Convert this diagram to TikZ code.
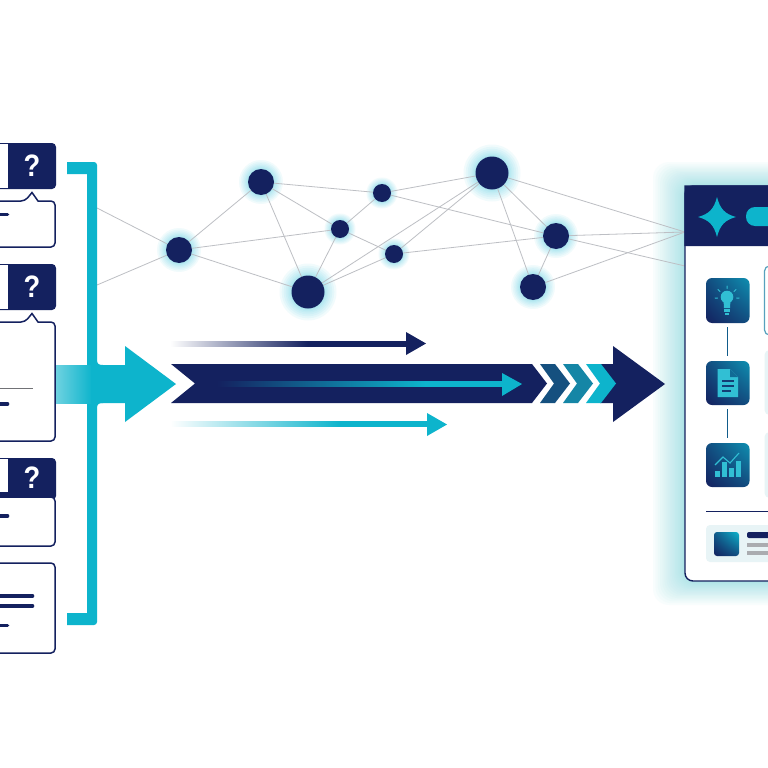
\documentclass[tikz,border=0pt]{standalone}
\usepackage{fontspec}
\setmainfont{Liberation Sans}
\usetikzlibrary{backgrounds,shadings}
\definecolor{navy}{HTML}{14215F}
\definecolor{teal1}{HTML}{0DB4CC}
\definecolor{glowc}{HTML}{63D2E6}
\definecolor{edgec}{HTML}{BDBFC4}
\definecolor{softc}{HTML}{E8F4F6}
\definecolor{chevA}{HTML}{15507F}
\definecolor{chevB}{HTML}{1586A6}
\definecolor{panelglow}{HTML}{8FDDE3}
\pgfdeclarehorizontalshading{fadenavy}{100bp}{color(0bp)=(white); color(25bp)=(white); color(54bp)=(navy); color(100bp)=(navy)}
\pgfdeclarehorizontalshading{fadeteal}{100bp}{color(0bp)=(white); color(25bp)=(white); color(58bp)=(teal1); color(100bp)=(teal1)}
\pgfdeclarehorizontalshading{fadeinner}{100bp}{color(0bp)=(navy); color(27bp)=(navy); color(62bp)=(teal1); color(100bp)=(teal1)}
\tikzset{
  net/.style={circle,fill=navy,inner sep=0pt,minimum size=#1},
  edge/.style={draw=edgec,line width=0.8pt},
  glowring/.style={fill=glowc,opacity=0.085},
  qbox/.style={fill=navy,rounded corners=4pt},
  cardbox/.style={draw=navy,fill=white,line width=1.5pt,rounded corners=4pt},
  bar/.style={draw=navy,line width=3.6pt,line cap=round},
  tealfill/.style={fill=teal1},
  iconbox/.style={rounded corners=6pt,lower left=navy,lower right=navy!70!teal1,upper right=teal1!75!navy,upper left=navy!70!teal1},
  icondraw/.style={fill=teal1!85!white,draw=none},
  softcard/.style={fill=softc,rounded corners=5pt},
  qmark/.style={text=white,font=\bfseries\fontsize{31}{31}\selectfont,inner sep=0pt,xscale=0.88}
}
\begin{document}
\begin{tikzpicture}[x=1pt,y=-1pt]
\useasboundingbox (0,0) rectangle (768,768);
\clip (0,0) rectangle (768,768);

% network nodes
\node[net=26pt] (a) at (179,250) {};
\node[net=26pt] (b) at (261,182) {};
\node[net=18pt] (c) at (382,193) {};
\node[net=18pt] (d) at (340,229) {};
\node[net=18pt] (e) at (394,254) {};
\node[net=33pt] (f) at (308,292) {};
\node[net=33pt] (g) at (492,173) {};
\node[net=26pt] (h) at (556,236) {};
\node[net=26pt] (i) at (533,287) {};
\coordinate (br1) at (97,208);
\coordinate (br2) at (97,285);
\coordinate (pn1) at (685,232);
\coordinate (pn2) at (685,266);

\begin{scope}[on background layer]
  \fill[white] (0,0) rectangle (768,768);
  \foreach \n/\r/\w in {a/13/9,b/13/9,c/9/6.5,d/9/6.5,e/9/6.5,f/16.5/12,g/16.5/12,h/13/9,i/13/9}{
    \foreach \k in {1,2,...,8}{
      \fill[glowring] (\n) circle ({\r+\w*(\k/8)^1.5});
    }
  }
  % panel glow
  \foreach \k in {1,2,...,22}{
    \pgfmathsetmacro{\off}{32*(\k/22)^1.7}
    \fill[panelglow,opacity=0.055,rounded corners=16pt] ({685-\off},{186-\off*0.75}) rectangle (800,{581+\off*0.75});
  }
  \foreach \s/\t in {br1/a,br2/a,a/b,a/d,a/f,b/c,b/d,b/f,d/c,d/e,d/f,f/e,f/g,e/g,c/g,c/h,e/h,g/h,g/i,h/i,g/pn1,h/pn1,h/pn2,i/pn1}{
    \draw[edge] (\s) -- (\t);
  }
\end{scope}

% left column
\fill[qbox] (-6,143) rectangle (56,189);
\fill[white] (-6,144) rectangle (8,188);
\node[qmark] (q1) at (32,166) {?};
\draw[cardbox] (-6,201) -- (25,201) [sharp corners] -- (32,192.5) -- (38,201) [rounded corners=4pt] -- (55,201) -- (55,247) -- (-6,247);
\draw[bar] (0,214.5) -- (7.5,214.5);

\fill[qbox] (-6,264) rectangle (56,310);
\fill[white] (-6,265) rectangle (8,309);
\node[qmark] (q2) at (32,287) {?};
\draw[cardbox] (-6,322) -- (25,322) [sharp corners] -- (32,313.5) -- (38,322) [rounded corners=4pt] -- (55,322) -- (55,441) -- (-6,441);
\draw[edgec!60!black,line width=1pt] (0,388) -- (33,388);
\draw[bar] (0,404) -- (7.5,404);

\fill[qbox] (-6,458) rectangle (56,500);
\fill[white] (-6,459) rectangle (8,492);
\node[qmark] (q3) at (32,478) {?};
\draw[cardbox] (-6,497) rectangle (55,546);
\draw[bar] (0,516) -- (7.5,516);

\draw[cardbox] (-6,563) rectangle (55,653);
\draw[bar] (0,596) -- (32.5,596);
\draw[bar] (0,606) -- (32.5,606);
\draw[bar] (0,625.5) -- (7.5,625.5);

% bracket
\fill[tealfill] (67,162) [rounded corners=3pt] -- (97,162) [sharp corners] -- (97,360) .. controls (97,364) and (99,365) .. (103,365) -- (87,365) -- (87,174) -- (67,174) -- cycle;
\fill[tealfill] (67,625) [rounded corners=3pt] -- (97,625) [sharp corners] -- (97,408) .. controls (97,404) and (99,403) .. (103,403) -- (87,403) -- (87,613) -- (67,613) -- cycle;
\shade[left color=teal1!60!white,right color=teal1] (56,365) rectangle (92,403);
\fill[tealfill] (91,365) -- (125,365) -- (125,346) -- (176,384) -- (125,422) -- (125,403) -- (91,403) -- cycle;

% thin arrows
\shade[shading=fadenavy] (170,341) rectangle (407,346);
\fill[navy] (406,332) -- (426,343.5) -- (406,355) -- cycle;
\shade[shading=fadeteal] (170,421.5) rectangle (428,426.5);
\fill[teal1] (427,413) -- (447,424.5) -- (427,436) -- cycle;

% main arrow
\fill[navy] (171,364) -- (532,364) -- (547,383.5) -- (532,403) -- (171,403) -- (195,383.5) -- cycle;
\shade[shading=fadeinner] (205,381) rectangle (503,386);
\fill[teal1] (502,373) -- (522,384) -- (502,396) -- cycle;
\fill[chevA] (540,364) -- (555,364) -- (570,383.5) -- (555,403) -- (540,403) -- (554,383.5) -- cycle;
\fill[chevB] (563,364) -- (578,364) -- (593,383.5) -- (578,403) -- (563,403) -- (577,383.5) -- cycle;
\fill[navy] (600,364) -- (613,364) -- (613,346) -- (665,384) -- (613,422) -- (613,403) -- (600,403) -- cycle;
\fill[teal1] (586,364) -- (601,364) -- (616,383.5) -- (601,403) -- (586,403) -- (600,383.5) -- cycle;

% panel
\draw[navy,fill=white,line width=1.4pt,rounded corners=8pt] (685,186) rectangle (790,581);
\fill[navy,rounded corners=8pt] (684.3,185.3) -- (790,185.3) -- (790,246) [sharp corners] -- (684.3,246) -- cycle;
\fill[teal1] (717,197) .. controls (720,209) and (725,214) .. (736,217) .. controls (725,220) and (720,225) .. (717,237) .. controls (714,225) and (709,220) .. (698,217) .. controls (709,214) and (714,209) .. (717,197) -- cycle;
\fill[teal1,rounded corners=9pt] (746,207) rectangle (790,226);

% icons
\shade[iconbox] (706,278) rectangle (749.5,323);
\shade[iconbox] (706,361) rectangle (749.5,405);
\shade[iconbox] (706,443) rectangle (749.5,487);
\draw[teal1!40!navy,line width=1.2pt] (727.5,327) -- (727.5,356);
\draw[teal1!40!navy,line width=1.2pt] (727.5,409) -- (727.5,438);

% bulb
\fill[icondraw] (727,297) circle (6.3);
\fill[icondraw] (723.5,300) -- (730.5,300) -- (730,308) -- (724,308) -- cycle;
\fill[icondraw] (724,309) rectangle (730,311.5);
\fill[icondraw] (725,312.5) rectangle (729,314.5);
\draw[teal1!85!white,line width=1pt,line cap=round]
  (727,286) -- (727,288.5) (718,289.5) -- (720,291.5) (736,289.5) -- (734,291.5) (715,298) -- (717.5,298) (739,298) -- (736.5,298);

% document
\fill[icondraw] (717.5,369) -- (730,369) -- (738,377) -- (738,397) -- (717.5,397) -- cycle;
\fill[teal1!50!navy] (730,369) -- (738,377) -- (730,377) -- cycle;
\draw[navy!80!teal1,line width=1.2pt] (722,381) -- (734,381) (722,386) -- (734,386) (722,391) -- (731,391);

% chart
\fill[icondraw] (715,471) rectangle (719.5,477);
\fill[icondraw] (722,462) rectangle (726.5,477);
\fill[icondraw] (729,468) rectangle (733.5,477);
\fill[icondraw] (736,461) rectangle (740.5,477);
\draw[teal1!85!white,line width=1.1pt] (715,465) -- (723,457) -- (730,463) -- (739,453);

% right cards
\draw[teal1!60!navy!70!white,fill=white,line width=1.2pt,rounded corners=5pt] (764.5,266) rectangle (790,335);
\fill[softcard] (764.5,350) rectangle (790,415);
\fill[softcard] (764.5,432) rectangle (790,498);

% footer
\draw[navy,line width=1pt] (706,511) -- (790,511);
\fill[softc,rounded corners=4pt] (706,525) rectangle (790,562);
\shade[rounded corners=3pt,lower left=navy,lower right=navy!70!teal1,upper right=teal1,upper left=navy!60!teal1] (714,532) rectangle (739,556);
\fill[navy,rounded corners=2pt] (747,532) rectangle (790,538);
\fill[edgec!90!black] (747,543) rectangle (790,546.5);
\fill[edgec!90!black] (747,551) rectangle (790,554.5);
\end{tikzpicture}
\end{document}
